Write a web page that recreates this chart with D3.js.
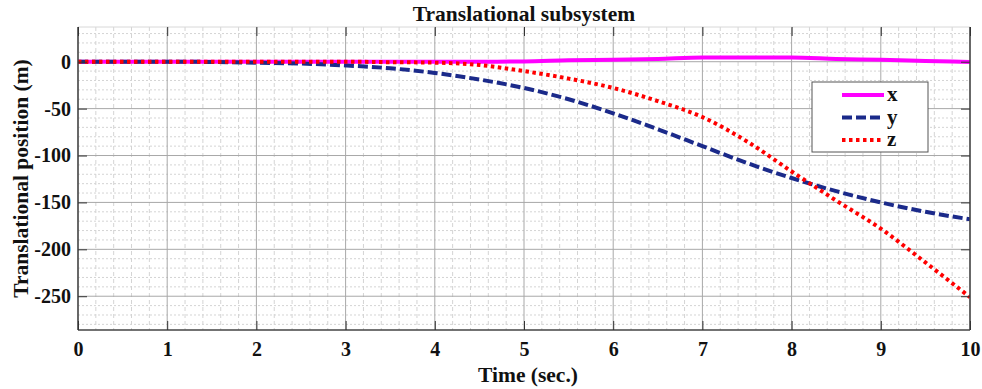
<!DOCTYPE html>
<html><head><meta charset="utf-8">
<script src="https://cdn.jsdelivr.net/npm/d3@7"></script>
<style>body{margin:0;background:#fff}svg{display:block}</style>
</head><body><svg id="c" width="982" height="389"></svg>
<script>
const time = [0,0.5,1,1.5,2,2.5,3,3.5,4,4.5,5,5.5,6,6.5,7,7.5,8,8.5,9,9.5,10];
const xPos = [0,0,0,0,0,0,0,0,0,0,0.2,1.5,2.2,3,4.5,4.5,4.5,3,2,0.8,-0.3];
const yPos = [0,0,0,-0.3,-1,-2,-4,-7,-12,-19,-28,-40,-55,-72,-90,-108,-124,-138,-150,-160,-168];
const zPos = [0,0,0,0,0,0,0,-0.5,-1,-3.5,-10,-18,-28,-42,-59,-85,-117,-148,-178,-214,-251];
const xTicks = [0,1,2,3,4,5,6,7,8,9,10];
const yTicks = [0,-50,-100,-150,-200,-250];
const seriesNames = ["x","y","z"];
const colors = ["#ff00ff","#1b2a8a","#ff0000"];
const dashes = [null,"10,4","3.5,3.5"];
const FONT = "Liberation Serif";

const svg = d3.select("#c");
const L=78,R=970,T=27,B=330;
const xs = d3.scaleLinear().domain([0,10]).range([L,R]);
const ys = d3.scaleLinear().domain([-286,37]).range([B,T]);

const g = svg.append("g");
d3.range(0,10.001,0.2).forEach(v=>{ if(Math.abs(v-Math.round(v))>1e-6) g.append("line").attr("x1",xs(v)).attr("x2",xs(v)).attr("y1",T).attr("y2",B).attr("stroke","#d4d4d4").attr("stroke-dasharray","4,3").attr("stroke-width",1);});
d3.range(-280,37,10).forEach(v=>{ if(v%50!==0) g.append("line").attr("y1",ys(v)).attr("y2",ys(v)).attr("x1",L).attr("x2",R).attr("stroke","#d4d4d4").attr("stroke-dasharray","2,2").attr("stroke-width",1);});
xTicks.forEach(v=>g.append("line").attr("x1",xs(v)).attr("x2",xs(v)).attr("y1",T).attr("y2",B).attr("stroke","#a8a8a8").attr("stroke-width",1));
yTicks.forEach(v=>g.append("line").attr("y1",ys(v)).attr("y2",ys(v)).attr("x1",L).attr("x2",R).attr("stroke","#a8a8a8").attr("stroke-width",1));

svg.append("clipPath").attr("id","cp").append("rect").attr("x",L).attr("y",T).attr("width",R-L).attr("height",B-T);
[xPos,yPos,zPos].forEach((arr,i)=>{
  const line = d3.line().x((d,j)=>xs(time[j])).y(d=>ys(d)).curve(d3.curveMonotoneX);
  svg.append("path").attr("d",line(arr)).attr("fill","none").attr("stroke",colors[i]).attr("stroke-width",4)
    .attr("stroke-dasharray",dashes[i]).attr("clip-path","url(#cp)");
});

svg.append("line").attr("x1",L).attr("x2",R).attr("y1",T).attr("y2",T).attr("stroke","#d8d8d8").attr("stroke-width",1);
svg.append("line").attr("x1",L).attr("x2",L).attr("y1",T).attr("y2",B).attr("stroke","#444").attr("stroke-width",1.5);
svg.append("line").attr("x1",L).attr("x2",R).attr("y1",B).attr("y2",B).attr("stroke","#444").attr("stroke-width",1.5);
svg.append("line").attr("x1",R).attr("x2",R).attr("y1",T).attr("y2",B).attr("stroke","#444").attr("stroke-width",1.5);

function styleText(sel,size){ sel.attr("font-family",FONT).attr("font-weight","bold").attr("font-size",size).attr("fill","#111"); }

const ax = svg.append("g").attr("transform",`translate(0,${B})`).call(d3.axisBottom(xs).tickValues(xTicks).tickSize(-9).tickPadding(12).tickFormat(d=>String(d)));
ax.select(".domain").remove(); ax.selectAll("line").attr("stroke","#333");
ax.attr("font-family",FONT).attr("font-size",20); styleText(ax.selectAll("text"),20);
const axt = svg.append("g").attr("transform",`translate(0,${T})`).call(d3.axisTop(xs).tickValues(xTicks).tickSize(-9).tickFormat(""));
axt.select(".domain").remove(); axt.selectAll("line").attr("stroke","#333");

const ay = svg.append("g").attr("transform",`translate(${L},0)`).call(d3.axisLeft(ys).tickValues(yTicks).tickSize(-9).tickPadding(7).tickFormat(d=>String(d)));
ay.select(".domain").remove(); ay.selectAll("line").attr("stroke","#333");
ay.attr("font-family",FONT).attr("font-size",20); styleText(ay.selectAll("text"),20);
const ayr = svg.append("g").attr("transform",`translate(${R},0)`).call(d3.axisRight(ys).tickValues(yTicks).tickSize(-9).tickFormat(""));
ayr.select(".domain").remove(); ayr.selectAll("line").attr("stroke","#333");

styleText(svg.append("text").attr("x",524).attr("y",21).attr("text-anchor","middle").text("Translational subsystem"),21.5);
styleText(svg.append("text").attr("x",528).attr("y",382).attr("text-anchor","middle").text("Time (sec.)"),21.5);
styleText(svg.append("text").attr("transform",`translate(28,${(T+B)/2}) rotate(-90)`).attr("text-anchor","middle").text("Translational position (m)"),21.5);

const lg = svg.append("g");
lg.append("rect").attr("x",812).attr("y",82).attr("width",116).attr("height",70).attr("fill","#fff").attr("stroke","#555").attr("stroke-width",1);
seriesNames.forEach((n,i)=>{
  const yy = 95 + i*22.5;
  lg.append("line").attr("x1",842).attr("x2",884).attr("y1",yy).attr("y2",yy).attr("stroke",colors[i]).attr("stroke-width",4).attr("stroke-dasharray",dashes[i]);
  styleText(lg.append("text").attr("x",887).attr("y",yy+6).text(n),21);
});
</script></body></html>
